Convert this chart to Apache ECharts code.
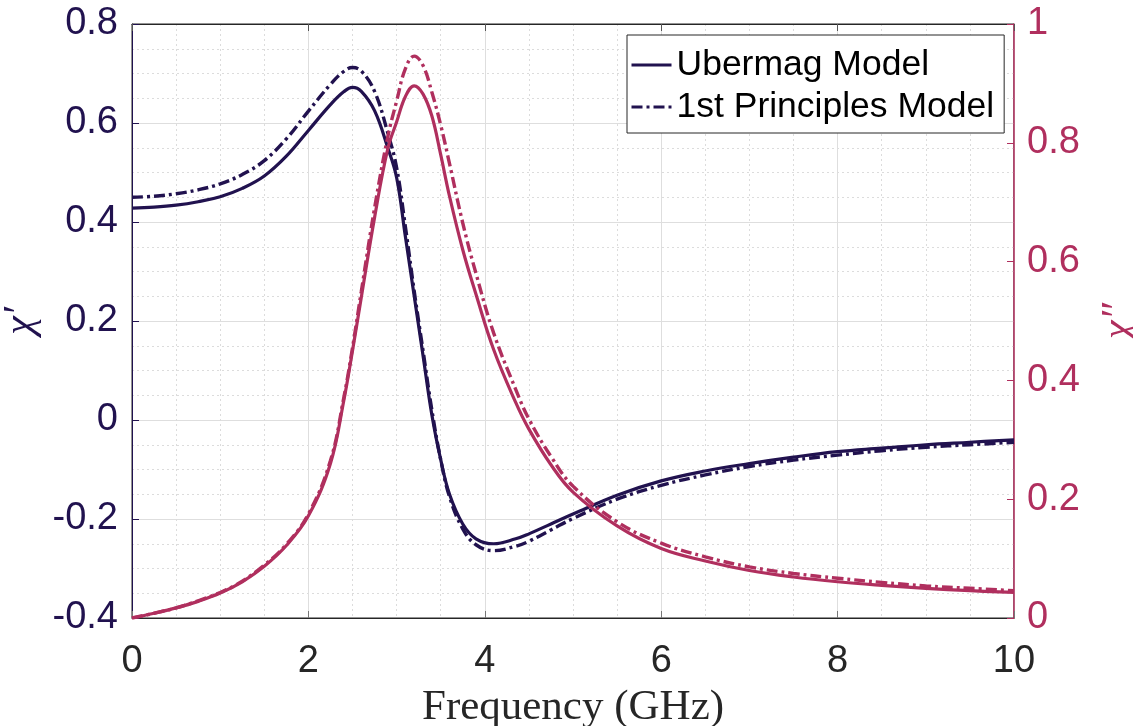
<!DOCTYPE html>
<html>
<head>
<meta charset="utf-8">
<script src="https://cdn.jsdelivr.net/npm/echarts@6/dist/echarts.min.js"></script>
<style>
html,body{margin:0;padding:0;background:#fff;}
#c{width:1133px;height:726px;}
</style>
</head>
<body>
<div id="c"></div>
<script>
const freq = [0,0.25,0.5,0.75,1,1.25,1.5,1.75,2,2.25,2.4,2.5,2.6,2.75,2.9,3,3.1,3.2,3.3,3.4,3.5,3.6,3.75,3.9,4.1,4.35,4.5,4.75,5,5.5,6,6.5,7,7.5,8,8.5,9,9.5,10];
const ubermagReal = [0.428,0.430,0.434,0.441,0.451,0.468,0.493,0.533,0.585,0.637,0.663,0.672,0.664,0.625,0.55,0.49,0.37,0.25,0.13,0.01,-0.08,-0.15,-0.21,-0.24,-0.250,-0.24,-0.23,-0.21,-0.19,-0.152,-0.123,-0.103,-0.088,-0.075,-0.064,-0.057,-0.050,-0.045,-0.040];
const principlesReal = [0.450,0.452,0.457,0.465,0.477,0.496,0.524,0.568,0.624,0.678,0.704,0.712,0.705,0.664,0.58,0.51,0.39,0.26,0.14,0.02,-0.08,-0.155,-0.22,-0.252,-0.264,-0.255,-0.245,-0.222,-0.199,-0.160,-0.132,-0.111,-0.094,-0.081,-0.071,-0.062,-0.055,-0.050,-0.045];
const ubermagImag = [0,0.008,0.017,0.028,0.042,0.061,0.087,0.122,0.172,0.26,0.365,0.45,0.54,0.674,0.79,0.835,0.878,0.896,0.882,0.845,0.780,0.71,0.62,0.545,0.452,0.363,0.318,0.258,0.212,0.155,0.117,0.096,0.080,0.069,0.061,0.055,0.050,0.046,0.043];
const principlesImag = [0,0.008,0.017,0.029,0.043,0.062,0.089,0.124,0.175,0.265,0.37,0.455,0.55,0.69,0.81,0.87,0.925,0.946,0.93,0.885,0.83,0.765,0.665,0.58,0.48,0.385,0.335,0.272,0.222,0.162,0.126,0.103,0.086,0.075,0.067,0.060,0.054,0.050,0.046];
const legendNames = ['Ubermag Model','1st Principles Model'];
const xName = 'Frequency (GHz)';
const yLeftName = 'χ′';
const yRightName = 'χ″';

const NAVY = '#21124f';
const MAG = '#b02f5e';
const GRAYTXT = '#262626';
const pairs = arr => freq.map((f,i)=>[f, arr[i]]);

const chart = echarts.init(document.getElementById('c'), null, {renderer:'canvas'});
const sansFont = "'Liberation Sans', Arial, sans-serif";
chart.setOption({
  backgroundColor:'#fff',
  animation:false,
  grid:{left:132,right:119,top:24,bottom:108,show:true,borderColor:GRAYTXT,borderWidth:1,
    containLabel:false,outerBoundsMode:'none'},
  legend:{
    data:legendNames,
    orient:'vertical',
    left:627, top:35,
    itemWidth:40, itemHeight:20, itemGap:6,
    padding:[12,10,8,3],
    borderColor:GRAYTXT, borderWidth:1, backgroundColor:'#fff',
    itemStyle:{opacity:0},
    lineStyle:{width:3},
    textStyle:{fontFamily:sansFont,fontSize:35.5,color:'#000'}
  },
  xAxis:[{
    type:'value', min:0, max:10, interval:2, position:'bottom',
    name:xName, nameLocation:'middle', nameGap:64,
    nameTextStyle:{fontFamily:"'Liberation Serif','DejaVu Serif',serif",fontSize:43,color:GRAYTXT},
    axisLine:{show:true,onZero:false,lineStyle:{color:GRAYTXT,width:1}},
    axisTick:{show:true,inside:true,length:7,lineStyle:{color:'#777'}},
    axisLabel:{fontFamily:sansFont,fontSize:38,color:GRAYTXT,margin:25},
    splitLine:{show:true,lineStyle:{color:'#dedede',width:1}},
    minorTick:{show:false,splitNumber:4},
    minorSplitLine:{show:true,lineStyle:{color:'#dcdcdc',type:[2,3],width:1}}
  },{
    type:'value', min:0, max:10, interval:2, position:'top',
    axisLine:{show:true,onZero:false,lineStyle:{color:GRAYTXT,width:1}},
    axisTick:{show:true,inside:true,length:7,lineStyle:{color:'#555'}},
    axisLabel:{show:false}, splitLine:{show:false}
  }],
  yAxis:[{
    type:'value', min:-0.4, max:0.8, interval:0.2, position:'left',
    name:yLeftName, nameLocation:'middle', nameGap:90, nameRotate:90,
    nameTextStyle:{fontFamily:"'Liberation Serif','DejaVu Serif',serif",fontStyle:'italic',fontSize:42,color:NAVY},
    axisLine:{show:true,onZero:false,lineStyle:{color:NAVY,width:1}},
    axisTick:{show:true,inside:true,length:7,lineStyle:{color:NAVY}},
    axisLabel:{fontFamily:sansFont,fontSize:38,color:NAVY,margin:14,
      formatter:v=>{const r=Math.round(v*10)/10; return r===0?'0':String(r);}},
    splitLine:{show:true,lineStyle:{color:'#dedede',width:1}},
    minorTick:{show:false,splitNumber:4},
    minorSplitLine:{show:true,lineStyle:{color:'#dcdcdc',type:[2,3],width:1}}
  },{
    type:'value', min:0, max:1, interval:0.2, position:'right',
    name:yRightName, nameLocation:'middle', nameGap:84, nameRotate:90,
    nameTextStyle:{fontFamily:"'Liberation Serif','DejaVu Serif',serif",fontStyle:'italic',fontSize:42,color:MAG},
    axisLine:{show:true,onZero:false,lineStyle:{color:MAG,width:1.5}},
    axisTick:{show:true,inside:true,length:7,lineStyle:{color:MAG}},
    axisLabel:{fontFamily:sansFont,fontSize:38,color:MAG,margin:13,
      formatter:v=>{const r=Math.round(v*10)/10; return String(r);}},
    splitLine:{show:false}
  }],
  series:[
    {name:legendNames[0],type:'line',xAxisIndex:0,yAxisIndex:0,data:pairs(ubermagReal),smooth:0.4,symbol:'none',
      lineStyle:{color:NAVY,width:3.2},itemStyle:{color:NAVY}},
    {name:legendNames[1],type:'line',xAxisIndex:0,yAxisIndex:0,data:pairs(principlesReal),smooth:0.4,symbol:'none',
      lineStyle:{color:NAVY,width:3.4,type:[11,4,3,4]},itemStyle:{color:NAVY}},
    {name:'Ubermag χ″',type:'line',xAxisIndex:0,yAxisIndex:1,data:pairs(ubermagImag),smooth:0.4,symbol:'none',
      lineStyle:{color:MAG,width:3.2},itemStyle:{color:MAG}},
    {name:'1st Principles χ″',type:'line',xAxisIndex:0,yAxisIndex:1,data:pairs(principlesImag),smooth:0.4,symbol:'none',
      lineStyle:{color:MAG,width:3.4,type:[11,4,3,4]},itemStyle:{color:MAG}}
  ]
});
</script>
</body>
</html>
